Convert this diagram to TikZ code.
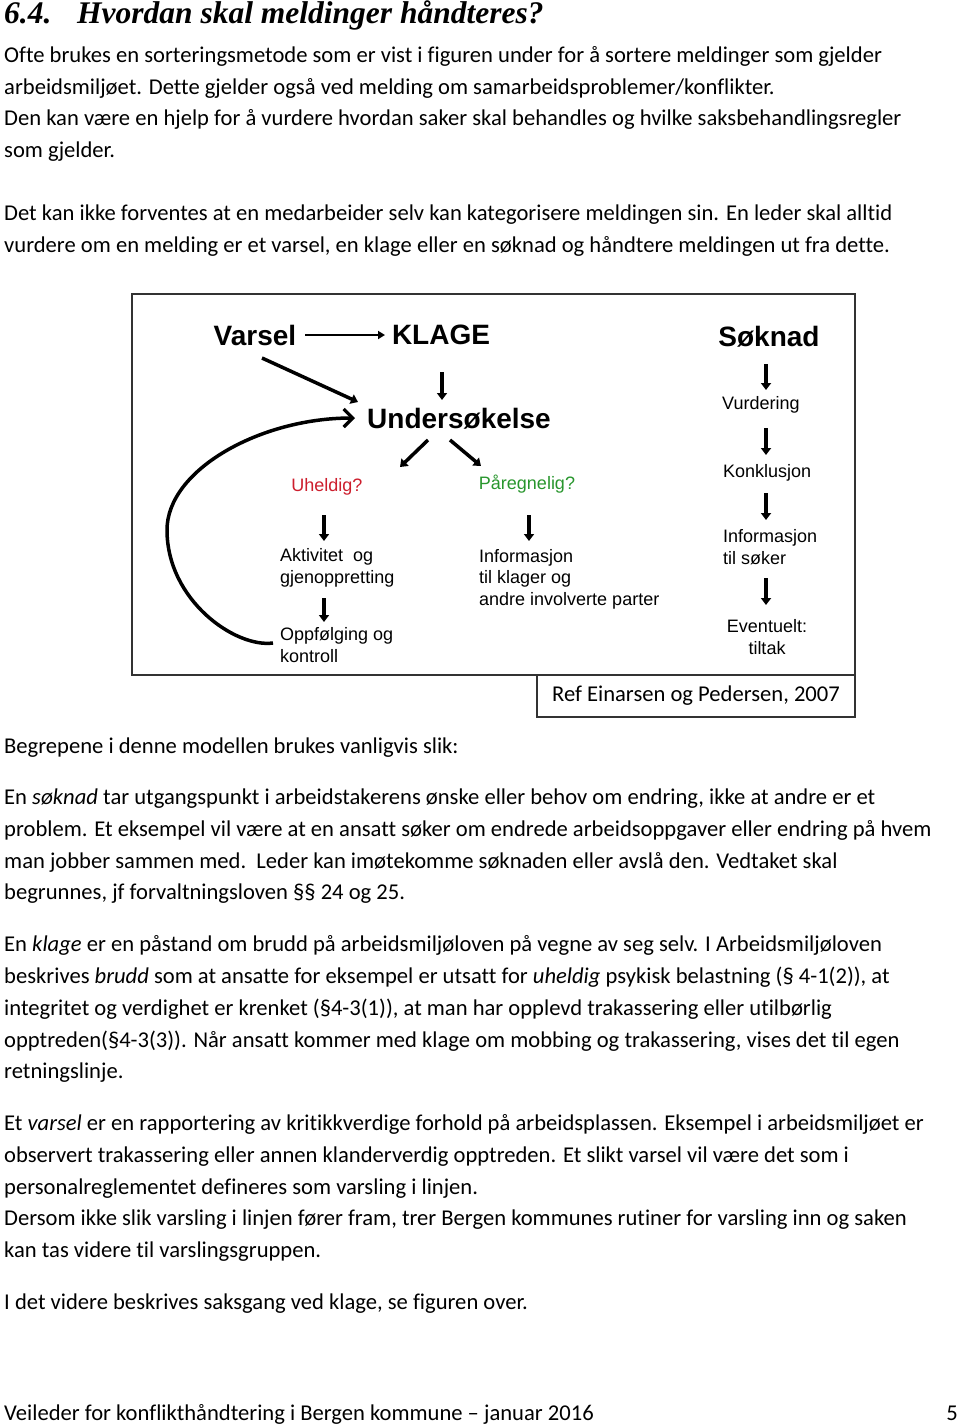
\documentclass[tikz,border=0pt]{standalone}
\usepackage{fontspec}
\setmainfont{Carlito}[Ligatures=NoCommon]
\newfontfamily\headfont{Liberation Serif}
\newfontfamily\arialfont{Liberation Sans}
\usetikzlibrary{arrows.meta}
\definecolor{uhred}{RGB}{205,30,45}
\definecolor{pagreen}{RGB}{40,150,45}
\definecolor{boxgray}{RGB}{50,50,50}
\tikzset{
  body/.style={anchor=base west, inner sep=0pt, font=\fontsize{22.6}{27}\selectfont},
  head/.style={anchor=base west, inner sep=0pt, font=\headfont\bfseries\itshape\fontsize{31.5}{36}\selectfont},
  big/.style={inner sep=0pt, font=\arialfont\bfseries\fontsize{28}{32}\selectfont},
  small/.style={inner sep=0pt, align=left, font=\arialfont\fontsize{18}{21.5}\selectfont},
  arr/.style={-{Triangle[length=7pt,width=10pt]}, line width=3.5pt},
  thinarr/.style={-{Triangle[length=7pt,width=8pt]}, line width=2.8pt},
  curvearr/.style={-{Straight Barb[length=9pt,width=18pt,line width=3.2pt]}, line width=3.5pt},
}
\begin{document}
\begin{tikzpicture}[x=1pt,y=-1pt]
\useasboundingbox (0,0) rectangle (960,1428);
\fill[white] (0,0) rectangle (960,1428);

% heading
\node[head] (hnum) at (4,23) {6.4.};
\node[head] (htitle) at (77,23) {Hvordan skal meldinger håndteres?};

% intro text
\node[body] (l1) at (4,62) {Ofte brukes en sorteringsmetode som er vist i figuren under for å sortere meldinger som gjelder};
\node[body] (l2) at (4,94) {arbeidsmiljøet. Dette gjelder også ved melding om samarbeidsproblemer/konflikter.};
\node[body] (l3) at (4,125) {Den kan være en hjelp for å vurdere hvordan saker skal behandles og hvilke saksbehandlingsregler};
\node[body] (l4) at (4,157) {som gjelder.};
\node[body] (l5) at (4,220) {Det kan ikke forventes at en medarbeider selv kan kategorisere meldingen sin. En leder skal alltid};
\node[body] (l6) at (4,252) {vurdere om en melding er et varsel, en klage eller en søknad og håndtere meldingen ut fra dette.};

% diagram frame
\draw[boxgray, line width=1.5pt] (132,294) rectangle (855,675);
\node[draw=boxgray, line width=1.5pt, minimum width=318, minimum height=42, inner sep=0pt,
      font=\fontsize{22.6}{27}\selectfont] (ref) at (696,696) {Ref Einarsen og Pedersen, 2007};

% diagram nodes
\node[big] (varsel) at (255,335) {Varsel};
\node[big] (klage) at (441,335) {KLAGE};
\node[big] (soknad) at (769,337) {Søknad};
\node[big] (unders) at (459,419) {Undersøkelse};
\node[small, text=uhred] (uheldig) at (327,487) {Uheldig?};
\node[small, text=pagreen] (paregn) at (527,484) {Påregnelig?};
\node[small, anchor=west] (aktiv) at (280,568) {Aktivitet\ \ og\\gjenoppretting};
\node[small, anchor=west] (oppf) at (280,645) {Oppfølging og\\kontroll};
\node[small, anchor=west] (info) at (479,579) {Informasjon\\til klager og\\andre involverte parter};
\node[small, anchor=west] (vurd) at (722,405) {Vurdering};
\node[small, anchor=west] (konk) at (723,473) {Konklusjon};
\node[small, anchor=west] (infos) at (723,547) {Informasjon\\til søker};
\node[small, align=center] (event) at (767,637) {Eventuelt:\\tiltak};

% connectors
\draw[thinarr] ([shift={(50,0)}]varsel.center) -- ([shift={(-56,0)}]klage.center);
\draw[arr] ([shift={(7,23)}]varsel.center) -- ([shift={(-101,-17)}]unders.center);
\draw[arr] ([shift={(1,37)}]klage.center) -- ([shift={(-17,-19)}]unders.center);
\draw[arr] ([shift={(-31,21)}]unders.center) -- ([shift={(73,-20)}]uheldig.center);
\draw[arr] ([shift={(-9,21)}]unders.center) -- ([shift={(-46,-18)}]paregn.center);
\draw[arr] ([shift={(-3,28)}]uheldig.center) -- ([shift={(44,-27)}]aktiv.west);
\draw[arr] ([shift={(44,30)}]aktiv.west) -- ([shift={(44,-23)}]oppf.west);
\draw[arr] ([shift={(2,31)}]paregn.center) -- ([shift={(50,-38)}]info.west);
\draw[arr] ([shift={(-3,27)}]soknad.center) -- ([shift={(44,-15)}]vurd.west);
\draw[arr] ([shift={(44,23)}]vurd.west) -- ([shift={(43,-18)}]konk.west);
\draw[arr] ([shift={(43,20)}]konk.west) -- ([shift={(43,-27)}]infos.west);
\draw[arr] ([shift={(43,31)}]infos.west) -- ([shift={(-1,-32)}]event.center);
\draw[curvearr] ([shift={(-7,-2)}]oppf.west) .. controls (235,648) and (167,600) .. (167,530)
   .. controls (167,470) and (260,418) .. ([shift={(-104,-1)}]unders.center);

% body text
\node[body] (b0) at (4,753) {Begrepene i denne modellen brukes vanligvis slik:};
\node[body] (s1) at (4,804) {En \textit{søknad} tar utgangspunkt i arbeidstakerens ønske eller behov om endring, ikke at andre er et};
\node[body] (s2) at (4,836) {problem. Et eksempel vil være at en ansatt søker om endrede arbeidsoppgaver eller endring på hvem};
\node[body] (s3) at (4,868) {man jobber sammen med.\ \ Leder kan imøtekomme søknaden eller avslå den. Vedtaket skal};
\node[body] (s4) at (4,899) {begrunnes, jf forvaltningsloven §§ 24 og 25.};
\node[body] (k1) at (4,951) {En \textit{klage} er en påstand om brudd på arbeidsmiljøloven på vegne av seg selv. I Arbeidsmiljøloven};
\node[body] (k2) at (4,983) {beskrives \textit{brudd} som at ansatte for eksempel er utsatt for \textit{uheldig} psykisk belastning (§ 4-1(2)), at};
\node[body] (k3) at (4,1015) {integritet og verdighet er krenket (§4-3(1)), at man har opplevd trakassering eller utilbørlig};
\node[body] (k4) at (4,1047) {opptreden(§4-3(3)). Når ansatt kommer med klage om mobbing og trakassering, vises det til egen};
\node[body] (k5) at (4,1078) {retningslinje.};
\node[body] (v1) at (4,1130) {Et \textit{varsel} er en rapportering av kritikkverdige forhold på arbeidsplassen. Eksempel i arbeidsmiljøet er};
\node[body] (v2) at (4,1162) {observert trakassering eller annen klanderverdig opptreden. Et slikt varsel vil være det som i};
\node[body] (v3) at (4,1194) {personalreglementet defineres som varsling i linjen.};
\node[body] (v4) at (4,1225) {Dersom ikke slik varsling i linjen fører fram, trer Bergen kommunes rutiner for varsling inn og saken};
\node[body] (v5) at (4,1257) {kan tas videre til varslingsgruppen.};
\node[body] (e1) at (4,1309) {I det videre beskrives saksgang ved klage, se figuren over.};

% footer
\node[body] (foot) at (4,1420) {Veileder for konflikthåndtering i Bergen kommune – januar 2016};
\node[body, anchor=base east] (page) at (958,1420) {5};
\end{tikzpicture}
\end{document}
